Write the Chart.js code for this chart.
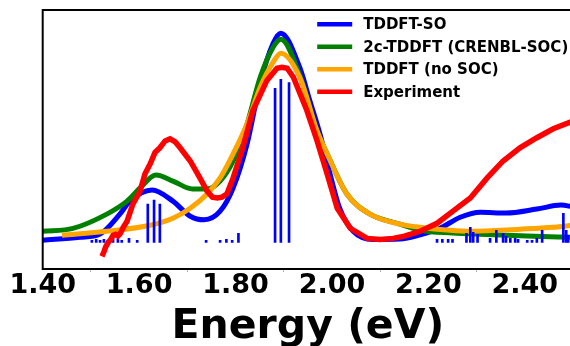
<!DOCTYPE html>
<html>
<head>
<meta charset="utf-8">
<script src="https://cdn.jsdelivr.net/npm/chart.js@4/dist/chart.umd.min.js"></script>
<style>
  html, body { margin: 0; padding: 0; background: #fff; overflow: hidden; }
  #wrap { width: 576px; height: 346px; }
</style>
</head>
<body>
<div id="wrap"><canvas id="espectroChart"></canvas></div>
<script>
// TDDFT-SO (blue)
const soEnergy = [1.40, 1.477, 1.519, 1.560, 1.581, 1.627, 1.670, 1.706, 1.735, 1.768, 1.795, 1.824, 1.851, 1.878, 1.894, 1.933, 1.954, 1.975, 1.996, 2.016, 2.044, 2.085, 2.141, 2.183, 2.224, 2.266, 2.308, 2.361, 2.425, 2.475, 2.50];
const soInt    = [0.010, 0.024, 0.040, 0.135, 0.197, 0.250, 0.197, 0.125, 0.108, 0.149, 0.260, 0.471, 0.760, 0.952, 1.000, 0.837, 0.678, 0.519, 0.327, 0.163, 0.053, 0.014, 0.016, 0.036, 0.067, 0.120, 0.144, 0.140, 0.159, 0.178, 0.170];

// 2c-TDDFT (CRENBL-SOC) (green)
const crenblEnergy = [1.40, 1.463, 1.533, 1.575, 1.602, 1.635, 1.670, 1.711, 1.741, 1.768, 1.795, 1.824, 1.851, 1.878, 1.894, 1.933, 1.969, 1.990, 2.031, 2.079, 2.141, 2.183, 2.250, 2.322, 2.405, 2.50];
const crenblInt    = [0.053, 0.067, 0.135, 0.197, 0.260, 0.322, 0.293, 0.255, 0.255, 0.293, 0.389, 0.567, 0.788, 0.933, 0.971, 0.800, 0.530, 0.423, 0.231, 0.135, 0.087, 0.058, 0.045, 0.038, 0.030, 0.024];

// TDDFT (no SOC) (orange)
const noSocEnergy = [1.44, 1.533, 1.623, 1.670, 1.706, 1.741, 1.768, 1.795, 1.824, 1.851, 1.878, 1.894, 1.933, 1.969, 1.990, 2.031, 2.079, 2.141, 2.183, 2.287, 2.390, 2.459, 2.50];
const noSocInt    = [0.034, 0.053, 0.082, 0.115, 0.163, 0.231, 0.308, 0.423, 0.567, 0.740, 0.861, 0.904, 0.790, 0.534, 0.423, 0.231, 0.135, 0.087, 0.072, 0.053, 0.063, 0.072, 0.082];

// Experiment (red)
const expEnergy = [1.523, 1.527, 1.531, 1.536, 1.541, 1.546, 1.551, 1.556, 1.561, 1.567, 1.575, 1.587, 1.602, 1.612, 1.623, 1.633, 1.643, 1.654, 1.664, 1.675, 1.685, 1.706, 1.726, 1.741, 1.752, 1.762, 1.772, 1.782, 1.795, 1.815, 1.836, 1.865, 1.886, 1.896, 1.907, 1.920, 1.948, 1.969, 1.990, 2.011, 2.038, 2.073, 2.100, 2.127, 2.150, 2.183, 2.218, 2.251, 2.287, 2.322, 2.355, 2.390, 2.425, 2.459, 2.50];
const expInt    = [-0.067, -0.045, -0.020, 0.000, 0.014, 0.034, 0.038, 0.030, 0.043, 0.072, 0.101, 0.183, 0.245, 0.327, 0.375, 0.430, 0.452, 0.485, 0.495, 0.480, 0.452, 0.389, 0.308, 0.245, 0.216, 0.212, 0.216, 0.231, 0.308, 0.452, 0.630, 0.774, 0.832, 0.837, 0.832, 0.789, 0.630, 0.486, 0.327, 0.163, 0.067, 0.019, 0.014, 0.019, 0.030, 0.053, 0.091, 0.149, 0.212, 0.308, 0.389, 0.452, 0.500, 0.543, 0.580];

// Stick spectrum (oscillator strengths)
const stickEnergy = [1.502, 1.511, 1.519, 1.527, 1.535, 1.546, 1.556, 1.564, 1.579, 1.596, 1.618, 1.631, 1.643, 1.739, 1.768, 1.781, 1.793, 1.806, 1.882, 1.894, 1.911, 2.218, 2.229, 2.241, 2.250, 2.279, 2.287, 2.293, 2.302, 2.328, 2.341, 2.355, 2.361, 2.370, 2.380, 2.386, 2.405, 2.415, 2.425, 2.436, 2.480, 2.486, 2.490];
const stickInt    = [0.010, 0.014, 0.010, 0.014, 0.010, 0.019, 0.014, 0.010, 0.019, 0.010, 0.183, 0.202, 0.183, 0.010, 0.010, 0.014, 0.010, 0.043, 0.736, 0.779, 0.764, 0.014, 0.014, 0.014, 0.014, 0.043, 0.072, 0.048, 0.038, 0.019, 0.058, 0.043, 0.029, 0.019, 0.019, 0.014, 0.010, 0.010, 0.019, 0.058, 0.139, 0.058, 0.034];

const xTicks = [1.40, 1.60, 1.80, 2.00, 2.20, 2.40];

const legendLabels = ['TDDFT-SO', '2c-TDDFT (CRENBL-SOC)', 'TDDFT (no SOC)', 'Experiment'];
const legendColors = ['#0000ff', '#008000', '#ffa500', '#ff0000'];

const toPoints = (xs, ys) => xs.map((x, i) => ({ x: x, y: ys[i] }));

// Frame + legend drawn over the plot
const leyendaPlugin = {
  id: 'leyenda',
  afterDraw(chart) {
    const ctx = chart.ctx;
    const a = chart.chartArea;
    ctx.save();
    ctx.strokeStyle = '#000';
    ctx.lineWidth = 2;
    ctx.strokeRect(a.left, a.top, a.right - a.left, a.bottom - a.top);

    ctx.font = 'bold 15px "DejaVu Sans"';
    ctx.textBaseline = 'middle';
    ctx.textAlign = 'left';
    legendLabels.forEach((lab, i) => {
      const y = a.top + 14.3 + i * 22.5;
      ctx.strokeStyle = legendColors[i];
      ctx.lineWidth = 4.5;
      ctx.beginPath();
      ctx.moveTo(a.left + 274.5, y);
      ctx.lineTo(a.left + 309.5, y);
      ctx.stroke();
      ctx.fillStyle = '#000';
      ctx.fillText(lab, a.left + 320.5, y + 1);
    });
    ctx.restore();
  }
};

const lineDs = (label, pts, color, order) => ({
  type: 'line',
  label: label,
  data: pts,
  borderColor: color,
  backgroundColor: color,
  borderWidth: 5,
  pointRadius: 0,
  fill: false,
  cubicInterpolationMode: 'monotone',
  order: order
});

new Chart(document.getElementById('espectroChart'), {
  type: 'line',
  data: {
    datasets: [
      Object.assign(lineDs('Experiment', toPoints(expEnergy, expInt), '#ff0000', 0), { cubicInterpolationMode: 'default', tension: 0, borderWidth: 5.5 }),
      lineDs('TDDFT (no SOC)', toPoints(noSocEnergy, noSocInt), '#ffa500', 2),
      lineDs('2c-TDDFT (CRENBL-SOC)', toPoints(crenblEnergy, crenblInt), '#008000', 3),
      lineDs('TDDFT-SO', toPoints(soEnergy, soInt), '#0000ff', 4),
      {
        type: 'bar',
        label: 'sticks',
        data: toPoints(stickEnergy, stickInt),
        backgroundColor: '#0000ff',
        borderWidth: 0,
        barThickness: 2,
        order: 1
      }
    ]
  },
  options: {
    responsive: true,
    maintainAspectRatio: false,
    animation: false,
    layout: { padding: { left: 42.7, top: 10, right: 3, bottom: -1.5 } },
    plugins: {
      legend: { display: false },
      tooltip: { enabled: false }
    },
    scales: {
      x: {
        type: 'linear',
        min: 1.40,
        max: 2.50,
        offset: false,
        afterBuildTicks: axis => { axis.ticks = xTicks.map(v => ({ value: v })); },
        grid: { display: true, drawOnChartArea: false, drawTicks: true, tickLength: 3, color: '#b0b0b0' },
        border: { display: false },
        ticks: {
          color: '#000',
          padding: 0.75,
          maxRotation: 0,
          font: { family: 'DejaVu Sans', weight: 'bold', size: 27, lineHeight: 1 },
          callback: v => v.toFixed(2)
        },
        title: {
          display: true,
          text: 'Energy (eV)',
          color: '#000',
          padding: { top: 6, bottom: 0 },
          font: { family: 'DejaVu Sans', weight: 'bold', size: 41, lineHeight: 1 }
        }
      },
      y: {
        display: false,
        min: -0.1274,
        max: 1.1106
      }
    }
  },
  plugins: [leyendaPlugin]
});
</script>
</body>
</html>
